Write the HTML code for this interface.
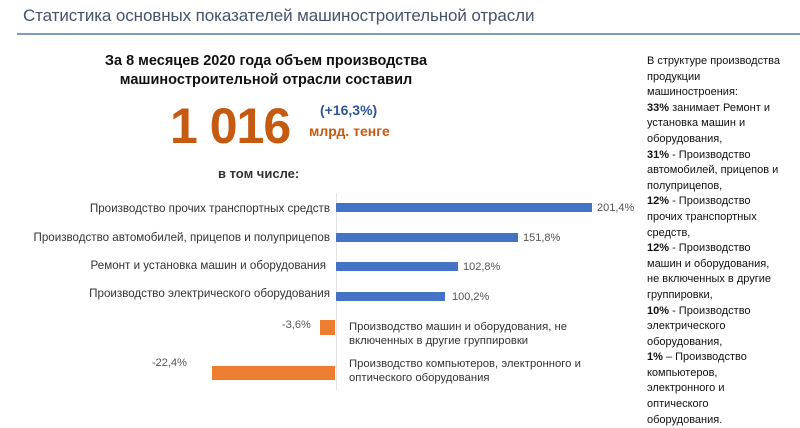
<!DOCTYPE html>
<html><head><meta charset="utf-8"><style>
body{margin:0;width:800px;height:428px;background:#fff;position:relative;overflow:hidden;font-family:"Liberation Sans","DejaVu Sans",sans-serif;}
.a{position:absolute;white-space:nowrap;}
.lbl{font-size:11.6px;color:#333;text-align:right;}
.val{font-size:11px;color:#555;}
.bar{position:absolute;}
.b{background:#4472c4;}
.o{background:#ed7d31;}
</style></head><body>
<div class="a" style="left:23px;top:6px;font-size:17px;color:#44546a;letter-spacing:-0.1px">Статистика основных показателей машиностроительной отрасли</div>
<div class="a" style="left:17px;top:33px;width:783px;height:2px;background:#7f9bc0"></div>
<div class="a" style="left:86px;top:52px;width:360px;font-size:14.5px;font-weight:bold;color:#111;text-align:center;line-height:19px">За 8 месяцев 2020 года объем производства<br>машиностроительной отрасли составил</div>
<div class="a" style="left:170px;top:97px;font-size:50px;font-weight:bold;color:#c55a11;letter-spacing:-1px">1 016</div>
<div class="a" style="left:320px;top:102px;font-size:14px;font-weight:bold;color:#2f5597">(+16,3%)</div>
<div class="a" style="left:309px;top:123px;font-size:14px;font-weight:bold;color:#c55a11">млрд. тенге</div>
<div class="a" style="left:218px;top:166px;font-size:13px;font-weight:bold;color:#333">в том числе:</div>
<div class="a" style="left:336px;top:193px;width:1px;height:197px;background:#e4e4e4"></div>
<div class="a lbl" style="right:470px;top:202px">Производство прочих транспортных средств</div>
<div class="a lbl" style="right:470px;top:231px">Производство автомобилей, прицепов и полуприцепов</div>
<div class="a lbl" style="right:474px;top:259px">Ремонт и установка машин и оборудования</div>
<div class="a lbl" style="right:470px;top:287px">Производство электрического оборудования</div>
<div class="bar b" style="left:336px;top:203px;width:256px;height:9px"></div>
<div class="bar b" style="left:336px;top:233px;width:182px;height:9px"></div>
<div class="bar b" style="left:336px;top:262px;width:122px;height:9px"></div>
<div class="bar b" style="left:336px;top:292px;width:109px;height:9px"></div>
<div class="a val" style="left:597px;top:202px">201,4%</div>
<div class="a val" style="left:523px;top:232px">151,8%</div>
<div class="a val" style="left:463px;top:261px">102,8%</div>
<div class="a val" style="left:452px;top:291px">100,2%</div>
<div class="bar o" style="left:320px;top:320px;width:15px;height:15px"></div>
<div class="bar o" style="left:212px;top:366px;width:123px;height:14px"></div>
<div class="a val" style="left:282px;top:319px">-3,6%</div>
<div class="a val" style="left:152px;top:357px">-22,4%</div>
<div class="a" style="left:349px;top:320px;font-size:11.3px;color:#333;line-height:14px">Производство машин и оборудования, не<br>включенных в другие группировки</div>
<div class="a" style="left:349px;top:357px;font-size:11.3px;color:#333;line-height:14px">Производство компьютеров, электронного и<br>оптического оборудования</div>
<div class="a" style="left:647px;top:54px;font-size:11px;color:#111;line-height:15.6px">В структуре производства<br>продукции<br>машиностроения:<br><b>33%</b> занимает Ремонт и<br>установка машин и<br>оборудования,<br><b>31%</b> - Производство<br>автомобилей, прицепов и<br>полуприцепов,<br><b>12%</b> - Производство<br>прочих транспортных<br>средств,<br><b>12%</b> - Производство<br>машин и оборудования,<br>не включенных в другие<br>группировки,<br><b>10%</b> - Производство<br>электрического<br>оборудования,<br><b>1%</b> – Производство<br>компьютеров,<br>электронного и<br>оптического<br>оборудования.</div>
</body></html>
